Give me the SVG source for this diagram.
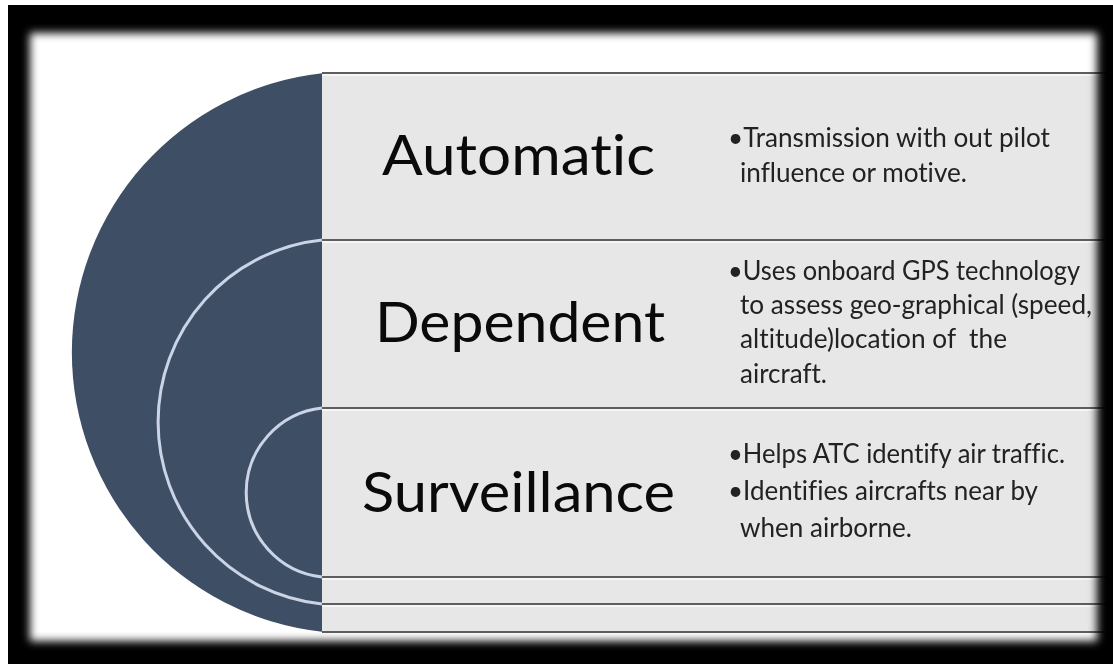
<svg xmlns="http://www.w3.org/2000/svg" width="1113" height="664" viewBox="0 0 1113 664">
  <defs>
    <filter id="blur" x="-5%" y="-5%" width="110%" height="110%">
      <feGaussianBlur stdDeviation="4.5"/>
    </filter>
    <mask id="frameMask" maskUnits="userSpaceOnUse" x="0" y="0" width="1113" height="664">
      <rect x="30" y="33" width="1067" height="608" fill="#fff" filter="url(#blur)"/>
    </mask>
    <style>
      .row { fill: #E7E7E7; }
      .divider { stroke: #5E5E5E; stroke-width: 2; fill: none; }
      .hilite { stroke: #FFFFFF; stroke-width: 1.5; fill: none; opacity: 0.8; }
      .ring { stroke: #CBD4E6; stroke-width: 3; fill: none; }
      text { font-variant-ligatures: none; font-feature-settings: "liga" 0, "clig" 0; }
      .title { font-family: Lato, "Open Sans", "Liberation Sans", sans-serif; font-size: 57px; fill: #0A0A0A; text-anchor: middle; }
      .desc { font-family: Lato, "Open Sans", "Liberation Sans", sans-serif; font-size: 26px; fill: #222222; }
    </style>
  </defs>

  <rect x="0" y="0" width="1113" height="664" fill="#FFFFFF"/>
  <rect x="8" y="5" width="1105" height="659" fill="#000000"/>

  <g mask="url(#frameMask)">
    <rect x="0" y="0" width="1113" height="664" fill="#FFFFFF"/>

    <g id="node-semicircle">
      <path d="M322,73.2 A281,281 0 0 0 322,631.8 Z" fill="#3E4F65"/>
      <path class="ring" d="M322,240 A183,183 0 0 0 322,604"/>
      <path class="ring" d="M322,408 A85,85 0 0 0 322,577"/>
    </g>

    <g id="node-automatic">
      <rect class="row" x="322" y="73" width="791" height="167"/>
      <text class="title" x="518.5" y="175" textLength="273" lengthAdjust="spacingAndGlyphs">Automatic</text>
      <text class="desc" x="728" y="147" textLength="322" lengthAdjust="spacingAndGlyphs">•Transmission with out pilot</text>
      <text class="desc" x="740" y="182" textLength="227" lengthAdjust="spacingAndGlyphs">influence or motive.</text>
    </g>

    <g id="node-dependent">
      <rect class="row" x="322" y="240" width="791" height="168"/>
      <text class="title" x="520" y="342" textLength="290" lengthAdjust="spacingAndGlyphs">Dependent</text>
      <text class="desc" x="728" y="280" textLength="352" lengthAdjust="spacingAndGlyphs">•Uses onboard GPS technology</text>
      <text class="desc" x="740" y="314" textLength="352" lengthAdjust="spacingAndGlyphs">to assess geo-graphical (speed,</text>
      <text class="desc" x="740" y="348" textLength="267" lengthAdjust="spacingAndGlyphs" xml:space="preserve">altitude)location of  the</text>
      <text class="desc" x="740" y="383" textLength="87" lengthAdjust="spacingAndGlyphs">aircraft.</text>
    </g>

    <g id="node-surveillance">
      <rect class="row" x="322" y="408" width="791" height="169"/>
      <text class="title" x="518.5" y="512" textLength="313" lengthAdjust="spacingAndGlyphs">Surveillance</text>
      <text class="desc" x="728" y="463" textLength="337" lengthAdjust="spacingAndGlyphs">•Helps ATC identify air traffic.</text>
      <text class="desc" x="728" y="500" textLength="310" lengthAdjust="spacingAndGlyphs">•Identifies aircrafts near by</text>
      <text class="desc" x="740" y="537" textLength="172" lengthAdjust="spacingAndGlyphs">when airborne.</text>
    </g>

    <g id="node-row4">
      <rect class="row" x="322" y="577" width="791" height="27"/>
    </g>
    <g id="node-row5">
      <rect class="row" x="322" y="604" width="791" height="28"/>
    </g>

    <g id="connectors">
      <line class="divider" x1="322" y1="73" x2="1113" y2="73"/>
      <line class="hilite" x1="322" y1="75" x2="1113" y2="75"/>
      <line class="divider" x1="322" y1="240" x2="1113" y2="240"/>
      <line class="hilite" x1="322" y1="242" x2="1113" y2="242"/>
      <line class="divider" x1="322" y1="408" x2="1113" y2="408"/>
      <line class="hilite" x1="322" y1="410" x2="1113" y2="410"/>
      <line class="divider" x1="322" y1="577" x2="1113" y2="577"/>
      <line class="hilite" x1="322" y1="579" x2="1113" y2="579"/>
      <line class="divider" x1="322" y1="604" x2="1113" y2="604"/>
      <line class="hilite" x1="322" y1="606" x2="1113" y2="606"/>
      <line class="divider" x1="322" y1="632" x2="1113" y2="632"/>
    </g>
  </g>
</svg>
